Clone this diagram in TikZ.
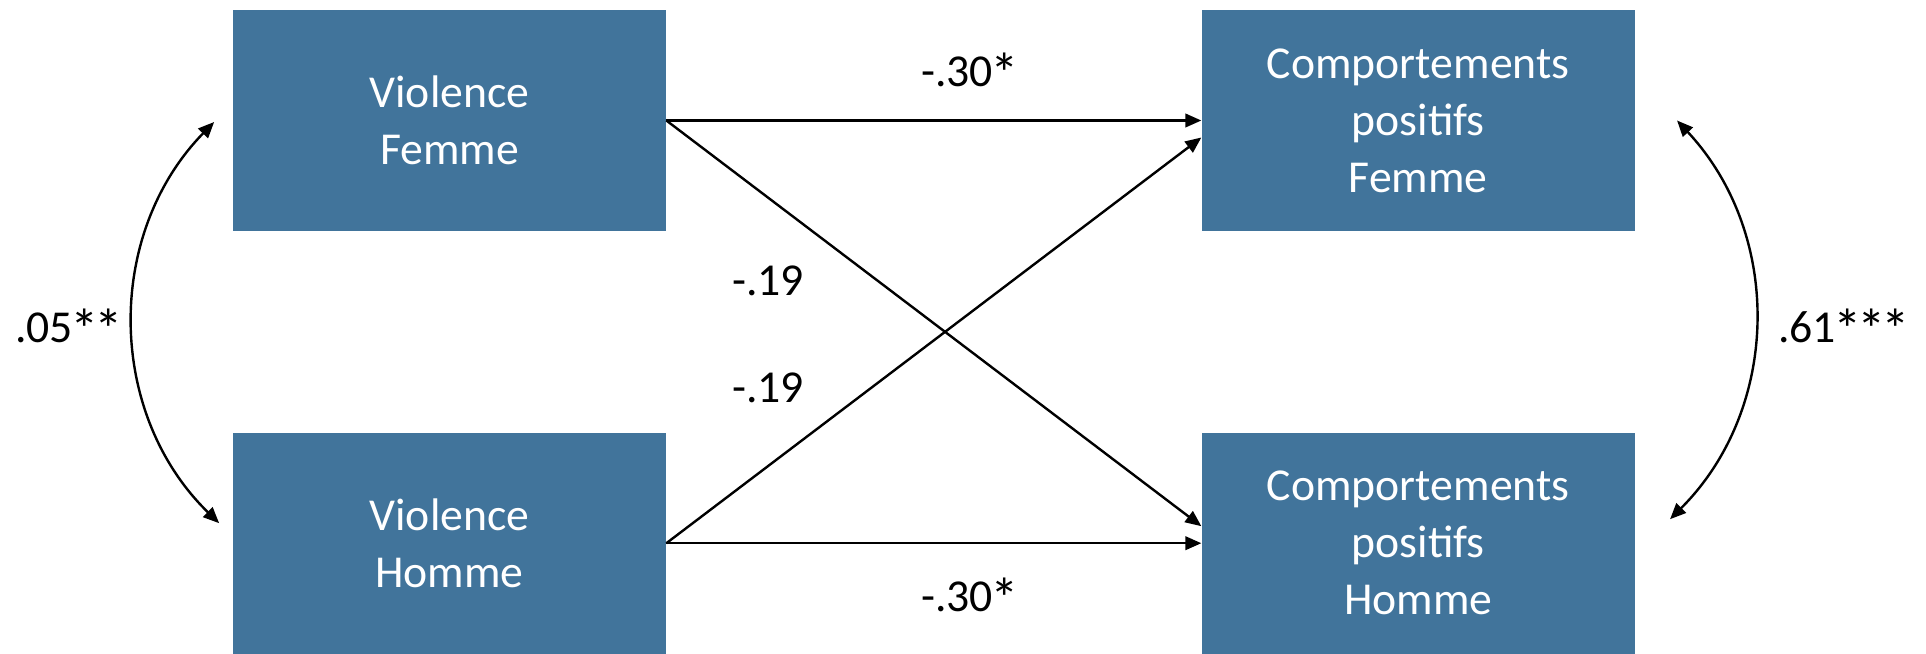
\documentclass[tikz,border=0pt]{standalone}
\usepackage{fontspec}
\setmainfont{Carlito}
\definecolor{boxblue}{RGB}{65,116,155}
\usetikzlibrary{arrows.meta, positioning}
\newcommand{\coeftext}{\fontsize{26}{32.4}\selectfont}
\newcommand{\bigast}{\kern-0.05em\raisebox{-0.15em}{\scalebox{1.25}{*}}\kern-0.05em}
\tikzset{
	var/.style={rectangle, fill=boxblue, text=white, align=center, minimum width=8.66cm, minimum height=4.42cm, inner sep=0pt, font=\coeftext},
	coef/.style={inner sep=0pt, font=\coeftext},
	effect/.style={-{Triangle[length=0.32cm, width=0.27cm]}, line width=0.048cm},
	cov/.style={{Triangle[length=0.32cm, width=0.27cm]}-{Triangle[length=0.32cm, width=0.27cm]}, line width=0.048cm},
}

\begin{document}
\begin{tikzpicture}[node distance=4.02cm and 10.7cm]
		\useasboundingbox (0,0) rectangle (38.52,-13.08);
		\node[var] (vf) at (8.99,-2.41) {Violence\\Femme};
		\node[var, below=of vf] (vh) {Violence\\Homme};
		\node[var, right=of vf] (cf) {Comportements\\positifs\\Femme};
		\node[var, right=of vh] (ch) {Comportements\\positifs\\Homme};
		\coordinate (vftip) at ([xshift=-0.37cm, yshift=-0.03cm]vf.west);
		\coordinate (vhtip) at ([xshift=-0.27cm, yshift=0.4cm]vh.west);
		\coordinate (cftip) at ([xshift=0.84cm]cf.east);
		\coordinate (chtip) at ([xshift=0.7cm, yshift=0.48cm]ch.east);
		\draw[effect] (vf.east) -- (cf.west);
		\draw[effect] (vh.east) -- (ch.west);
		\draw[effect] (vf.east) -- ([yshift=0.34cm]ch.west);
		\draw[effect] (vh.east) -- ([yshift=-0.34cm]cf.west);
		\draw[cov] (vftip) to[bend right=45] (vhtip);
		\draw[cov] (cftip) to[bend left=44] (chtip);
		\node[coef] (b1) at (19.38,-1.46) {-.30\bigast};
		\node[coef] (b2) at (19.38,-11.96) {-.30\bigast};
		\node[coef] (b3) at (15.36,-5.62) {-.19};
		\node[coef] (b4) at (15.36,-7.75) {-.19};
		\node[coef] (r1) at (1.36,-6.58) {.05\bigast\bigast};
		\node[coef] (r2) at (36.86,-6.58) {.61\bigast\bigast\bigast};
	\end{tikzpicture}
\end{document}
